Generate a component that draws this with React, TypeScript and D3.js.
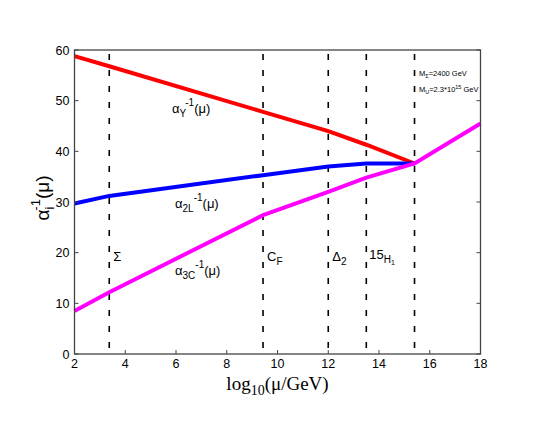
import React from "react";
import * as d3 from "d3";

const thresholds = [3.37, 9.43, 12.0, 13.5, 15.4];

const xY = [2, 3.37, 9.43, 12.0, 13.5, 15.4];
const alphaY = [58.8, 56.8, 47.8, 44.0, 41.3, 37.6];
const x2L = [2, 3.37, 9.43, 12.0, 13.5, 15.4];
const alpha2L = [29.7, 31.2, 35.3, 37.0, 37.6, 37.6];
const x3C = [2, 3.37, 9.43, 12.0, 13.5, 15.4, 18];
const alpha3C = [8.5, 12.2, 27.4, 32.0, 34.8, 37.6, 45.5];

const xTicks = [2, 4, 6, 8, 10, 12, 14, 16, 18];
const yTicks = [0, 10, 20, 30, 40, 50, 60];

export default function App() {
  const W = 545, H = 436;
  const L = 74.5, R = 480.5, T = 50, B = 354;
  const x = d3.scaleLinear().domain([2, 18]).range([L, R]);
  const y = d3.scaleLinear().domain([0, 60]).range([B, T]);
  const line = d3.line<[number, number]>().x(d => x(d[0])).y(d => y(d[1]));
  const zip = (a: number[], b: number[]) => a.map((v, i) => [v, b[i]] as [number, number]);
  const sans = "Liberation Sans, Arial, sans-serif";
  const serif = "Liberation Serif, Times New Roman, serif";
  const axisColor = "#444";
  return (
    <svg width={W} height={H} style={{ position: "absolute", left: 0, top: 0, background: "#fff" }}>
      {thresholds.map((t, i) => (
        <line key={i} x1={x(t)} x2={x(t)} y1={T} y2={B} stroke="#000" strokeWidth={1.6} strokeDasharray="6,10" strokeDashoffset={-4} />
      ))}
      <path d={line(zip(xY, alphaY)) || ""} fill="none" stroke="#ff0000" strokeWidth={4} />
      <path d={line(zip(x2L, alpha2L)) || ""} fill="none" stroke="#0000ff" strokeWidth={4} />
      <path d={line(zip(x3C, alpha3C)) || ""} fill="none" stroke="#ff00ff" strokeWidth={4} />
      <rect x={L} y={T} width={R - L} height={B - T} fill="none" stroke={axisColor} strokeWidth={1.3} />
      {xTicks.map(t => (
        <g key={"x" + t}>
          <line x1={x(t)} x2={x(t)} y1={B} y2={B - 4} stroke={axisColor} />
          <text x={x(t)} y={B + 14} textAnchor="middle" fontFamily={sans} fontSize={12.5}>{t}</text>
        </g>
      ))}
      {yTicks.map(t => (
        <g key={"y" + t}>
          <line x1={L} x2={L + 4} y1={y(t)} y2={y(t)} stroke={axisColor} />
          <line x1={R} x2={R - 4} y1={y(t)} y2={y(t)} stroke={axisColor} />
          <text x={L - 5} y={y(t) + 4.5} textAnchor="end" fontFamily={sans} fontSize={12.5}>{t}</text>
        </g>
      ))}
      <text x={x(10)} y={390} textAnchor="middle" fontFamily={serif} fontSize={19}>
        log<tspan fontSize={14} dy={5}>10</tspan><tspan dy={-5}>(μ/GeV)</tspan>
      </text>
      <text transform={`translate(49,${y(30) - 4}) rotate(-90)`} textAnchor="middle" fontFamily={sans} fontSize={19}>
        α<tspan fontSize={13} dy={5}>i</tspan><tspan fontSize={13} dy={-14} dx={-4}>-1</tspan><tspan dy={9}>(μ)</tspan>
      </text>
      <text x={172} y={113} fontFamily={sans} fontSize={13}>
        α<tspan fontSize={10} dy={4}>Y</tspan><tspan fontSize={10} dy={-11}>-1</tspan><tspan dy={7}>(μ)</tspan>
      </text>
      <text x={175} y={208} fontFamily={sans} fontSize={13}>
        α<tspan fontSize={10} dy={4}>2L</tspan><tspan fontSize={10} dy={-11}>-1</tspan><tspan dy={7}>(μ)</tspan>
      </text>
      <text x={175} y={275} fontFamily={sans} fontSize={13}>
        α<tspan fontSize={10} dy={4}>3C</tspan><tspan fontSize={10} dy={-11}>-1</tspan><tspan dy={7}>(μ)</tspan>
      </text>
      <text x={x(thresholds[0]) + 4} y={261} fontFamily={sans} fontSize={13}>Σ</text>
      <text x={x(thresholds[1]) + 4} y={261} fontFamily={sans} fontSize={13}>C<tspan fontSize={10} dy={4}>F</tspan></text>
      <text x={x(thresholds[2]) + 4} y={261} fontFamily={sans} fontSize={13}>Δ<tspan fontSize={10} dy={4}>2</tspan></text>
      <text x={x(thresholds[3]) + 3} y={259} fontFamily={sans} fontSize={13}>15<tspan fontSize={10} dy={4}>H</tspan><tspan fontSize={7} dy={2}>1</tspan></text>
      <text x={419} y={76} fontFamily={sans} fontSize={7.5}>M<tspan fontSize={5.5} dy={2}>Σ</tspan><tspan dy={-2}>=2400 GeV</tspan></text>
      <text x={419} y={92} fontFamily={sans} fontSize={7.5}>M<tspan fontSize={5.5} dy={2}>U</tspan><tspan dy={-2}>=2.3*10</tspan><tspan fontSize={5.5} dy={-3}>15</tspan><tspan dy={3}> GeV</tspan></text>
    </svg>
  );
}
